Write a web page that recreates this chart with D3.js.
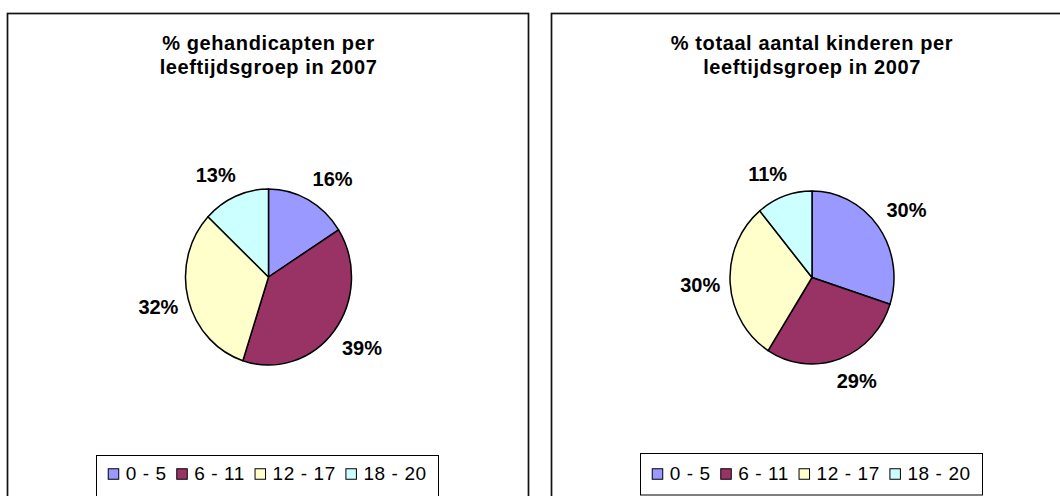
<!DOCTYPE html>
<html>
<head>
<meta charset="utf-8">
<script src="https://cdn.jsdelivr.net/npm/d3@7"></script>
<style>
    body { margin: 0; background: #fff; }
    svg  { display: block; }
    text { font-family: Arial, 'Liberation Sans', sans-serif; fill: #000; }
</style>
</head>
<body>
<div id="graph"></div>
<script>

// Age groups and Excel palette colours
var categories = [ '0 - 5', '6 - 11', '12 - 17', '18 - 20' ];
var colours    = [ '#9999FF', '#993366', '#FFFFCC', '#CCFFFF' ];

// Left chart
var titleLeft  = [ '% gehandicapten per', 'leeftijdsgroep in 2007' ];
var valuesLeft = [ 16, 39, 32, 13 ];

// Right chart
var titleRight  = [ '% totaal aantal kinderen per', 'leeftijdsgroep in 2007' ];
var valuesRight = [ 30, 29, 30, 11 ];


var overallWidth  = 1060;
var overallHeight = 496;

// layout of each panel (frame, pie ellipse, legend box)
var panels = [
    { title: titleLeft, values: valuesLeft,
      x: 7.5, y: 13.5, w: 521, h: 520,
      cx: 268.5, cy: 277, rx: 83, ry: 88,
      legend: { x: 96.5, y: 455.5, w: 342, h: 42 } },
    { title: titleRight, values: valuesRight,
      x: 551.5, y: 13.5, w: 521, h: 520,
      cx: 812, cy: 277.5, rx: 82, ry: 86.5,
      legend: { x: 640.5, y: 453.5, w: 342, h: 41.5 } }
];

// gap between pie edge and label box
var LabelGapX = 10;
var LabelGapY = 15;

var svg = d3.select ('#graph').append ('svg')
            .attr ('width', overallWidth)
            .attr ('height', overallHeight);


var DrawPanel = function (p)
{
    var g = svg.append ('g');

    // frame
    g.append ('rect')
     .attr ('x', p.x).attr ('y', p.y)
     .attr ('width', p.w).attr ('height', p.h)
     .attr ('fill', '#fff')
     .attr ('stroke', '#111')
     .attr ('stroke-width', 1.7);

    // title, two lines
    g.selectAll ('.title')
     .data (p.title)
     .enter ()
     .append ('text')
     .attr ('class', 'title')
     .attr ('x', p.cx)
     .attr ('y', function (d, i) { return 49.5 + i * 24.8; })
     .attr ('text-anchor', 'middle')
     .style ('font-size', '20px')
     .style ('font-weight', 'bold')
     .style ('letter-spacing', '0.6px')
     .text (function (d) { return d; });

    // pie
    var pie = d3.pie ().sort (null).value (function (d) { return d; });
    var arcs = pie (p.values);

    var arc = d3.arc ().innerRadius (0).outerRadius (p.ry);

    var pieG = g.append ('g')
                .attr ('transform', 'translate(' + p.cx + ',' + p.cy + ')scale(' + (p.rx / p.ry) + ',1)');

    pieG.selectAll ('path')
        .data (arcs)
        .enter ()
        .append ('path')
        .attr ('d', arc)
        .attr ('fill', function (d, i) { return colours[i]; })
        .attr ('stroke', '#000')
        .attr ('stroke-width', 1.5)
        .attr ('vector-effect', 'non-scaling-stroke')
        .attr ('stroke-linejoin', 'round');

    // percentage labels outside the pie
    var clamp = function (v) { return Math.max (-1, Math.min (1, v)); };

    var labels = g.selectAll ('.pct')
                  .data (arcs)
                  .enter ()
                  .append ('text')
                  .attr ('class', 'pct')
                  .attr ('text-anchor', 'middle')
                  .attr ('dy', '0.36em')
                  .style ('font-size', '20px')
                  .style ('font-weight', 'bold')
                  .text (function (d) { return d.data + '%'; });

    labels.each (function (d)
    {
        var mid = (d.startAngle + d.endAngle) / 2;
        var s = Math.sin (mid), c = Math.cos (mid);
        var hw = this.getComputedTextLength () / 2;
        var hh = 8;

        var lx = p.cx + (p.rx + LabelGapX) * s + hw * clamp (2 * s);
        var ly = p.cy - (p.ry + LabelGapY) * c - hh * clamp (2 * c);

        d3.select (this).attr ('x', lx).attr ('y', ly);
    } );

    // legend
    var lg = g.append ('g');

    lg.append ('rect')
      .attr ('x', p.legend.x).attr ('y', p.legend.y)
      .attr ('width', p.legend.w).attr ('height', p.legend.h)
      .attr ('fill', '#fff')
      .attr ('stroke', '#000')
      .attr ('stroke-width', 1);

    var items = lg.selectAll ('.item')
                  .data (categories)
                  .enter ()
                  .append ('g')
                  .attr ('class', 'item');

    var sq = 10.5;
    var midY = 473;

    items.append ('rect')
         .attr ('width', sq).attr ('height', sq)
         .attr ('y', midY - sq / 2 + 1)
         .attr ('fill', function (d, i) { return colours[i]; })
         .attr ('stroke', '#000')
         .attr ('stroke-width', 1);

    items.append ('text')
         .attr ('y', midY)
         .attr ('dy', '0.36em')
         .style ('font-size', '19px')
         .style ('letter-spacing', '0.6px')
         .text (function (d) { return d; });

    // lay items out from measured text widths, centred in the box
    var widths = [];
    items.select ('text').each (function () { widths.push (this.getComputedTextLength ()); });

    var gapSq = 7, gapItem = 10;
    var total = d3.sum (widths) + categories.length * (sq + gapSq) + (categories.length - 1) * gapItem;
    var xPos = p.legend.x + (p.legend.w - total) / 2;

    items.each (function (d, i)
    {
        var it = d3.select (this);
        it.select ('rect').attr ('x', xPos);
        it.select ('text').attr ('x', xPos + sq + gapSq);
        xPos += sq + gapSq + widths[i] + gapItem;
    } );
}

panels.forEach (DrawPanel);

</script>
</body>
</html>
